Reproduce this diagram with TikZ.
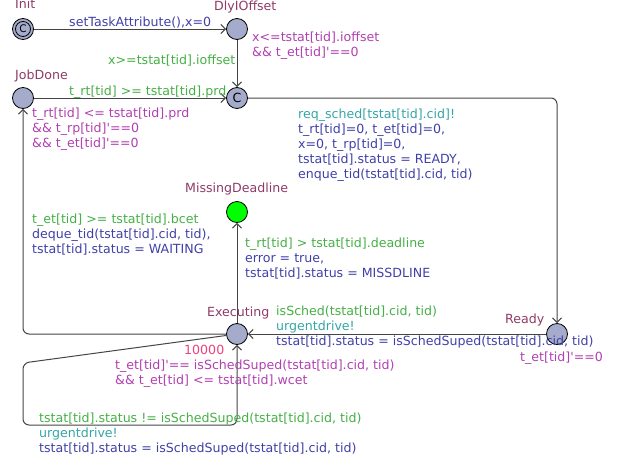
\documentclass[tikz,border=0pt]{standalone}
\usepackage{fontspec}
\setmainfont{DejaVu Sans}[Ligatures=TeXOff]
\usetikzlibrary{arrows.meta}
\definecolor{locfill}{HTML}{A4ABCB}
\definecolor{locname}{HTML}{8E3B67}
\definecolor{guardgreen}{HTML}{45B045}
\definecolor{syncteal}{HTML}{35A5A5}
\definecolor{updateblue}{HTML}{4040A8}
\definecolor{invpurple}{HTML}{B040B0}
\definecolor{costpink}{HTML}{E8457A}
\definecolor{edgegrey}{HTML}{454545}
\tikzset{
	% ------- every something
	every node/.style={
		font=\fontsize{12.6}{15}\selectfont,
	},
	% ------- custom
	location/.style={
		circle, draw=black, fill=locfill, line width=0.8pt,
		minimum size=21pt, inner sep=0pt,
	},
	transition/.style={
		-{Straight Barb[length=1.6mm]},
		draw=edgegrey, line width=1pt,
	},
	labeltext/.style={
		anchor=north west, inner sep=0pt, align=left,
	},
	locname/.style={labeltext, text=locname},
	guard/.style={labeltext, text=guardgreen},
	sync/.style={labeltext, text=syncteal},
	update/.style={labeltext, text=updateblue},
	invariant/.style={labeltext, text=invpurple},
	cost/.style={labeltext, text=costpink},
}

\begin{document}
\begin{tikzpicture}[x=1pt,y=-1pt]

% bounding box %{{{1

	\useasboundingbox (0,0) rectangle (618,466);

% locations %{{{1

	\node[location, font=\fontsize{10.5}{12}\selectfont] (Init) at (23,29) {C};
	\node[location] (DlyIOffset) at (237,29) {};
	\node[location] (Commit) at (237,98) {C};
	\node[location] (JobDone) at (23,98) {};
	\node[location, fill=green] (MissingDeadline) at (237,212) {};
	\node[location] (Executing) at (237,334) {};
	\node[location] (Ready) at (557,334) {};

	\draw[line width=0.8pt] (Init) circle (7.5pt);

% corners of the self loop %{{{1

	\coordinate (loopA) at (23,363);
	\coordinate (loopB) at (23,425);
	\coordinate (loopC) at (237,425);

% transitions %{{{1

	\draw[transition] (Init) -- (DlyIOffset);
	\draw[transition] (DlyIOffset) -- (Commit);
	\draw[transition] (JobDone) -- (Commit);
	\draw[transition, rounded corners=6pt] (Commit) -| (Ready);
	\draw[transition] (Ready) -- (Executing);
	\draw[transition] (Executing) -- (MissingDeadline);
	\draw[transition, rounded corners=6pt] (Executing) -| (JobDone);
	\draw[transition, rounded corners=6pt]
		(Executing) -- (loopA) -- (loopB) -- (loopC) -- (Executing);

% location names %{{{1

	\node[locname] (nameInit) at (15,-1.5) {Init};
	\node[locname] (nameDly) at (214,0.5) {DlyIOffset};
	\node[locname] (nameJob) at (15,69.5) {JobDone};
	\node[locname] (nameMiss) at (185,182.5) {MissingDeadline};
	\node[locname] (nameExec) at (207,306.5) {Executing};
	\node[locname] (nameReady) at (505,313.5) {Ready};

% invariants and cost %{{{1

	\node[invariant] (invDly) at (252,31.5)
		{x<=tstat[tid].ioffset\\\&\& t\_et[tid]'==0};
	\node[invariant] (invJob) at (32,107.5)
		{t\_rt[tid] <= tstat[tid].prd\\\&\& t\_rp[tid]'==0\\\&\& t\_et[tid]'==0};
	\node[cost] (costExec) at (184,344.5) {10000};
	\node[invariant] (invExec) at (115,359.5)
		{t\_et[tid]'== isSchedSuped(tstat[tid].cid, tid)\\\&\& t\_et[tid] <= tstat[tid].wcet};
	\node[invariant] (invReady) at (520,351.5) {t\_et[tid]'==0};

% transition labels %{{{1

	\node[update] (lblInit) at (69,16.5) {setTaskAttribute(),x=0};
	\node[guard] (lblDly) at (108,54.5) {x>=tstat[tid].ioffset};
	\node[guard] (lblJob) at (69,85.5) {t\_rt[tid] >= tstat[tid].prd};
	\node[update] (lblCommit) at (298,108.5)
		{\textcolor{syncteal}{req\_sched[tstat[tid].cid]!}\\
		t\_rt[tid]=0, t\_et[tid]=0,\\
		x=0, t\_rp[tid]=0,\\
		tstat[tid].status = READY,\\
		enque\_tid(tstat[tid].cid, tid)};
	\node[guard] (lblDone) at (32,213.5)
		{t\_et[tid] >= tstat[tid].bcet\\
		\textcolor{updateblue}{deque\_tid(tstat[tid].cid, tid),}\\
		\textcolor{updateblue}{tstat[tid].status = WAITING}};
	\node[guard] (lblMiss) at (245,237.5)
		{t\_rt[tid] > tstat[tid].deadline\\
		\textcolor{updateblue}{error = true,}\\
		\textcolor{updateblue}{tstat[tid].status = MISSDLINE}};
	\node[guard] (lblReady) at (276,305.5)
		{isSched(tstat[tid].cid, tid)\\
		\textcolor{syncteal}{urgentdrive!}\\
		\textcolor{updateblue}{tstat[tid].status = isSchedSuped(tstat[tid].cid, tid)}};
	\node[guard] (lblLoop) at (39,412.5)
		{tstat[tid].status != isSchedSuped(tstat[tid].cid, tid)\\
		\textcolor{syncteal}{urgentdrive!}\\
		\textcolor{updateblue}{tstat[tid].status = isSchedSuped(tstat[tid].cid, tid)}};

% closing %{{{1

\end{tikzpicture}
\end{document}
